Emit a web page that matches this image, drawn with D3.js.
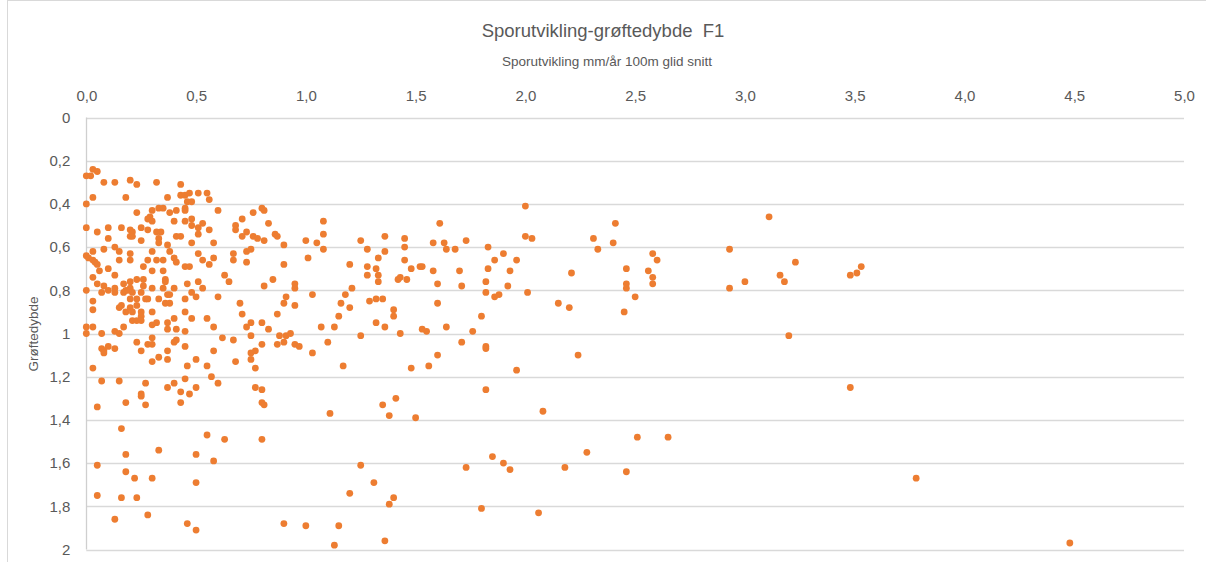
<!DOCTYPE html>
<html lang="no">
<head>
<meta charset="utf-8">
<title>Sporutvikling-grøftedybde F1</title>
<script src="https://cdn.jsdelivr.net/npm/d3@7"></script>
<style>
  html, body { margin: 0; padding: 0; background: #fff; }
  svg { display: block; font-family: "Liberation Sans", Arial, sans-serif; }
</style>
</head>
<body>
<svg id="chart" width="1206" height="562"></svg>
<script>
// Chart texts
const chartTitle = "Sporutvikling-grøftedybde  F1";
const xAxisTitle = "Sporutvikling mm/år 100m glid snitt";
const yAxisTitle = "Grøftedybde";

// Axis ticks
const xTickValues = [0, 0.5, 1, 1.5, 2, 2.5, 3, 3.5, 4, 4.5, 5];
const yTickValues = [0, 0.2, 0.4, 0.6, 0.8, 1, 1.2, 1.4, 1.6, 1.8, 2];

// Measurements: [sporutvikling mm/år, grøftedybde m]
const malinger = [
  [0.00,0.27],[0.02,0.27],[0.03,0.24],[0.05,0.25],[0.08,0.30],[0.13,0.30],[0.20,0.29],[0.23,0.31],[0.32,0.30],[0.43,0.31],
  [0.03,0.37],[0.00,0.40],[0.18,0.37],[0.37,0.37],[0.43,0.36],[0.45,0.36],[0.47,0.35],[0.51,0.35],[0.55,0.35],[0.56,0.38],
  [0.46,0.39],[0.48,0.39],[0.30,0.43],[0.33,0.42],[0.35,0.42],[0.38,0.44],[0.41,0.43],[0.45,0.42],[0.45,0.43],[0.60,0.43],
  [0.80,0.42],[0.81,0.43],[0.76,0.44],[0.23,0.44],[0.29,0.46],[0.28,0.47],[0.30,0.48],[0.40,0.48],[0.45,0.48],[0.48,0.47],
  [0.48,0.50],[0.53,0.49],[0.71,0.47],[0.68,0.50],[0.68,0.52],[0.83,0.49],[0.00,0.51],[0.05,0.53],[0.10,0.51],[0.10,0.56],
  [0.16,0.51],[0.20,0.52],[0.21,0.53],[0.20,0.55],[0.21,0.55],[0.25,0.51],[0.25,0.57],[0.28,0.52],[0.32,0.53],[0.34,0.53],
  [0.33,0.56],[0.33,0.58],[0.41,0.55],[0.43,0.55],[0.48,0.58],[0.51,0.51],[0.51,0.54],[0.56,0.52],[0.58,0.58],[0.71,0.55],
  [0.73,0.53],[0.76,0.55],[0.78,0.56],[0.81,0.57],[0.86,0.54],[0.87,0.55],[0.90,0.59],[1.00,0.57],[1.05,0.58],[0.00,0.64],
  [0.01,0.65],[0.03,0.66],[0.04,0.67],[0.05,0.68],[0.03,0.62],[0.08,0.61],[0.13,0.60],[0.15,0.62],[0.20,0.63],[0.15,0.66],
  [0.20,0.66],[0.28,0.66],[0.30,0.62],[0.32,0.66],[0.35,0.66],[0.37,0.59],[0.38,0.62],[0.40,0.65],[0.41,0.67],[0.51,0.63],
  [0.53,0.66],[0.58,0.65],[0.56,0.68],[0.67,0.63],[0.67,0.66],[0.73,0.62],[0.75,0.61],[0.73,0.67],[0.90,0.68],[1.01,0.65],
  [1.08,0.48],[1.08,0.54],[1.08,0.61],[1.25,0.57],[1.28,0.61],[1.36,0.55],[1.36,0.62],[1.33,0.65],[1.20,0.68],[1.45,0.56],
  [1.45,0.60],[1.45,0.66],[1.58,0.58],[1.61,0.49],[1.63,0.58],[1.64,0.61],[1.68,0.61],[1.73,0.57],[1.83,0.60],[1.86,0.66],
  [1.90,0.63],[1.96,0.66],[2.00,0.41],[2.00,0.55],[2.03,0.56],
  [0.26,0.69],[0.30,0.71],[0.35,0.71],[0.45,0.69],[0.47,0.69],[0.06,0.71],[0.10,0.70],[0.03,0.74],[0.05,0.77],[0.13,0.73],
  [0.17,0.77],[0.20,0.76],[0.20,0.79],[0.23,0.75],[0.26,0.75],[0.26,0.78],[0.36,0.75],[0.36,0.76],[0.46,0.77],[0.51,0.76],
  [0.53,0.79],[0.63,0.73],[0.65,0.76],[0.00,0.80],[0.03,0.85],[0.03,0.89],[0.07,0.81],[0.08,0.78],[0.10,0.80],[0.13,0.79],
  [0.13,0.81],[0.17,0.81],[0.18,0.80],[0.19,0.80],[0.20,0.84],[0.21,0.81],[0.23,0.84],[0.25,0.81],[0.30,0.79],[0.27,0.84],
  [0.28,0.84],[0.33,0.84],[0.35,0.79],[0.37,0.82],[0.38,0.82],[0.36,0.86],[0.38,0.86],[0.40,0.79],[0.45,0.84],[0.48,0.81],
  [0.50,0.83],[0.60,0.83],[0.70,0.86],[0.16,0.87],[0.15,0.88],[0.18,0.90],[0.20,0.88],[0.21,0.90],[0.23,0.87],[0.25,0.90],
  [0.25,0.92],[0.21,0.94],[0.23,0.94],[0.25,0.94],[0.30,0.90],[0.40,0.93],[0.45,0.90],[0.48,0.93],[0.55,0.93],[0.71,0.91],
  [0.32,0.95],[0.30,0.96],[0.37,0.95],[0.00,0.97],[0.00,1.00],[0.03,0.97],[0.07,1.00],[0.13,0.99],[0.15,1.00],[0.17,0.97],
  [0.37,0.98],[0.41,0.98],[0.45,0.99],[0.58,0.97],[0.73,0.97],[0.07,1.07],[0.08,1.08],[0.08,1.09],[0.10,1.06],[0.13,1.07],
  [0.23,1.04],[0.25,1.08],[0.28,1.05],[0.30,1.05],[0.30,1.02],[0.40,1.04],[0.41,1.03],[0.45,1.06],[0.37,1.08],[0.33,1.11],
  [0.37,1.12],[0.30,1.13],[0.58,1.08],[0.62,1.02],[0.67,1.03],[0.68,1.13],[0.50,1.12],[0.46,1.15],[0.55,1.15],[0.03,1.16],
  [0.07,1.22],[0.15,1.22],[0.27,1.23],[0.37,1.25],[0.40,1.23],[0.45,1.21],[0.50,1.25],[0.57,1.20],[0.60,1.23],[0.25,1.28],
  [0.43,1.27],[0.47,1.28],
  [1.28,0.69],[1.32,0.70],[1.33,0.73],[1.28,0.73],[1.33,0.76],[1.48,0.70],[1.42,0.75],[1.43,0.74],[1.46,0.75],[0.81,0.78],
  [0.85,0.75],[0.95,0.77],[0.95,0.79],[1.03,0.82],[1.21,0.79],[1.18,0.82],[1.16,0.86],[1.20,0.88],[1.29,0.85],[1.32,0.84],
  [1.35,0.84],[1.40,0.89],[1.40,0.92],[0.90,0.86],[0.91,0.83],[0.95,0.87],[0.87,0.91],[1.15,0.92],[0.75,0.95],[0.80,0.95],
  [0.75,1.01],[0.83,0.98],[0.88,1.01],[0.91,1.01],[0.93,1.00],[0.90,1.04],[0.87,1.05],[0.80,1.05],[0.95,1.05],[0.97,1.06],
  [1.07,0.97],[1.13,0.97],[1.10,1.04],[1.25,1.01],[1.32,0.95],[1.36,0.97],[1.43,1.00],[0.75,1.09],[0.77,1.08],[0.75,1.12],
  [0.77,1.16],[1.03,1.09],[1.17,1.15],[1.48,1.16],[0.77,1.25],[0.80,1.26],
  [1.52,0.69],[1.53,0.69],[1.58,0.71],[1.70,0.71],[1.83,0.70],[1.93,0.71],[2.21,0.72],[1.60,0.77],[1.71,0.78],[1.82,0.76],
  [1.92,0.78],[1.82,0.81],[1.86,0.83],[1.88,0.82],[2.01,0.81],[1.60,0.86],[2.15,0.86],[2.20,0.88],[1.80,0.92],[1.64,0.97],
  [1.53,0.98],[1.55,0.99],[1.76,0.99],[1.71,1.04],[1.82,1.06],[1.82,1.07],[1.60,1.10],[2.24,1.10],[1.56,1.15],[1.96,1.17],
  [1.82,1.26],
  [0.25,1.29],[0.43,1.32],[0.05,1.34],[0.18,1.32],[0.27,1.33],[0.80,1.32],[0.81,1.33],[0.16,1.44],[0.55,1.47],[0.63,1.49],
  [0.80,1.49],[0.33,1.54],[0.18,1.56],[0.50,1.56],[0.58,1.59],[0.05,1.61],[0.18,1.64],[0.22,1.67],[0.30,1.67],[0.50,1.69],
  [0.05,1.75],[0.16,1.76],[0.23,1.76],[0.13,1.86],[0.28,1.84],[0.46,1.88],[0.50,1.91],[0.90,1.88],[1.00,1.89],
  [1.11,1.37],[1.35,1.33],[1.41,1.30],[1.38,1.38],[1.50,1.39],[2.08,1.36],[1.25,1.61],[1.31,1.69],[1.20,1.74],[1.40,1.76],
  [1.38,1.79],[1.73,1.62],[1.85,1.57],[1.90,1.60],[1.93,1.63],[2.18,1.62],[1.80,1.81],[2.06,1.83],[1.15,1.89],[1.13,1.98],
  [1.36,1.96],
  [2.41,0.49],[2.31,0.56],[2.33,0.61],[2.40,0.58],[2.46,0.70],[2.46,0.77],[2.46,0.79],[2.50,0.83],[2.45,0.90],[2.58,0.63],
  [2.60,0.66],[2.56,0.71],[2.58,0.74],[2.58,0.77],[2.93,0.61],[2.93,0.79],[3.00,0.76],[3.11,0.46],[3.16,0.73],[3.18,0.76],
  [3.23,0.67],[3.20,1.01],[3.48,0.73],[3.51,0.72],[3.53,0.69],[3.48,1.25],
  [2.28,1.55],[2.46,1.64],[2.51,1.48],[2.65,1.48],[3.78,1.67],[4.48,1.97]
];

const W = 1206, H = 562;
const textColor = "#595959";
const gridColor = "#d9d9d9";
const markerColor = "#ED7D31";

const svg = d3.select("#chart");

// Outer chart frame
svg.append("rect")
  .attr("x", 7.5).attr("y", 0.5)
  .attr("width", W).attr("height", H + 20)
  .attr("fill", "#fff")
  .attr("stroke", gridColor);

const x = d3.scaleLinear().domain([0, 5]).range([86.3, 1184]);
const y = d3.scaleLinear().domain([0, 2]).range([117.5, 549.5]);

// Horizontal gridlines
svg.append("g")
  .selectAll("line")
  .data(yTickValues)
  .join("line")
  .attr("x1", x(0)).attr("x2", x(5))
  .attr("y1", d => Math.round(y(d)) + 0.5)
  .attr("y2", d => Math.round(y(d)) + 0.5)
  .attr("stroke", gridColor)
  .attr("stroke-width", 1.3);

// Vertical axis line
svg.append("line")
  .attr("x1", Math.round(x(0)) + 0.5).attr("x2", Math.round(x(0)) + 0.5)
  .attr("y1", y(0)).attr("y2", y(2))
  .attr("stroke", "#cfcfcf")
  .attr("stroke-width", 1.3);

const comma = d => String(d).replace(".", ",");

// Top x axis (values grow to the right, labels above the plot)
const xAxis = svg.append("g")
  .attr("transform", `translate(0,${y(0)})`)
  .call(d3.axisTop(x).tickValues(xTickValues).tickSize(0).tickPadding(17)
    .tickFormat(d => d3.format(".1f")(d).replace(".", ",")));
xAxis.select(".domain").remove();
xAxis.selectAll("text")
  .attr("fill", textColor)
  .style("font-size", "15px");

// Left y axis (depth grows downward)
const yAxis = svg.append("g")
  .attr("transform", `translate(${x(0)},0)`)
  .call(d3.axisLeft(y).tickValues(yTickValues).tickSize(0).tickPadding(16)
    .tickFormat(comma));
yAxis.select(".domain").remove();
yAxis.selectAll("text")
  .attr("fill", textColor)
  .style("font-size", "15px");

// Titles
svg.append("text")
  .attr("x", 603).attr("y", 37)
  .attr("text-anchor", "middle")
  .attr("fill", textColor)
  .style("font-size", "18.5px")
  .style("white-space", "pre")
  .text(chartTitle);

svg.append("text")
  .attr("x", 607).attr("y", 66)
  .attr("text-anchor", "middle")
  .attr("fill", textColor)
  .style("font-size", "13.5px")
  .text(xAxisTitle);

svg.append("text")
  .attr("transform", "translate(38,334) rotate(-90)")
  .attr("text-anchor", "middle")
  .attr("fill", textColor)
  .style("font-size", "13.5px")
  .text(yAxisTitle);

// Scatter markers
svg.append("g")
  .selectAll("circle")
  .data(malinger)
  .join("circle")
  .attr("cx", d => x(d[0]))
  .attr("cy", d => y(d[1]))
  .attr("r", 3.4)
  .attr("fill", markerColor);
</script>
</body>
</html>
